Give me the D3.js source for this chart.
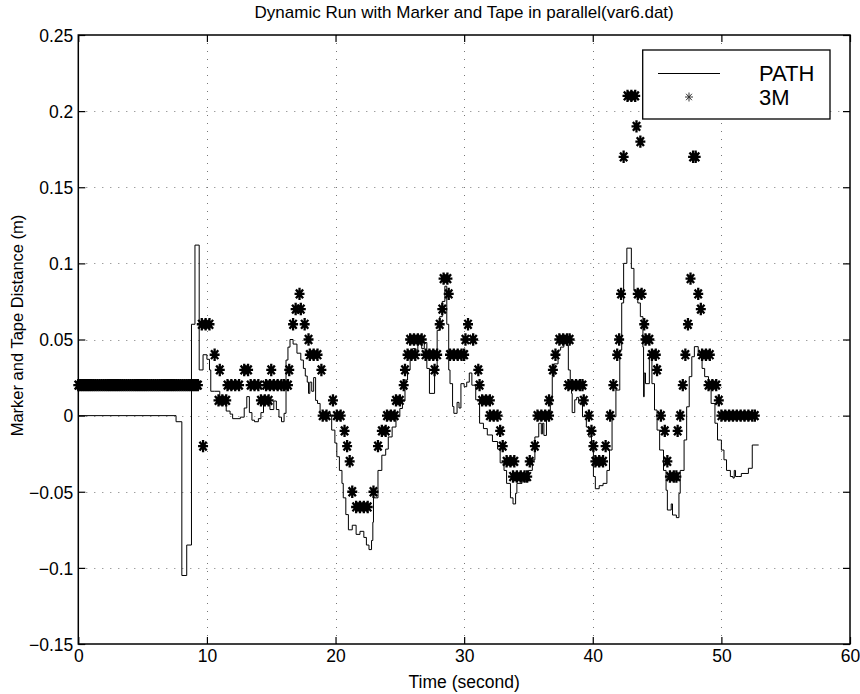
<!DOCTYPE html>
<html><head><meta charset="utf-8">
<script src="https://cdn.jsdelivr.net/npm/d3@7"></script>
<style>body{margin:0;background:#fff}svg{display:block}text{font-family:"Liberation Sans",Arial,Helvetica,sans-serif}</style>
</head><body><svg id="c" width="860" height="694"></svg>
<script>
const titleText = "Dynamic Run with Marker and Tape in parallel(var6.dat)";
const xLabel = "Time (second)";
const yLabel = "Marker and Tape Distance (m)";
const xTicks = [0, 10, 20, 30, 40, 50, 60];
const yTicks = [-0.15, -0.1, -0.05, 0, 0.05, 0.1, 0.15, 0.2, 0.25];
const yTickLabels = ["\u22120.15", "\u22120.1", "\u22120.05", "0", "0.05", "0.1", "0.15", "0.2", "0.25"];
const legendNames = ["PATH", "3M"];

// PATH series: [time, distance]
const pathPoints = [
[0,0],[7.6,-0.004],[8.05,-0.105],[8.43,-0.085],[8.8,0.06],[9.07,0.112],[9.4,0.03],[9.7,0.04],[10.0,0.037],[10.2,0.03],[10.3,0.016],[10.6,0.016],[11.0,0.007],[11.3,0.011],[11.5,0.003],[11.8,0.001],[12.0,-0.002],[12.6,-0.001],[12.9,0.005],[13.1,0.0125],[13.3,0.002],[13.5,-0.003],[13.7,-0.004],[14.0,-0.002],[14.2,0.002],[14.4,0.008],[14.75,0.011],[14.9,0.004],[15.2,0.0096],[15.4,0.004],[15.6,-0.001],[15.8,-0.004],[16.0,0.0015],[16.15,0.0365],[16.3,0.045],[16.46,0.05],[16.7,0.047],[17.0,0.041],[17.3,0.0365],[17.5,0.031],[17.65,0.026],[17.8,0.022],[17.9,0.0146],[18.0,0.022],[18.15,0.016],[18.3,0.025],[18.45,0.01],[18.6,0.008],[18.8,0.0015],[19.6,0.0004],[19.7,-0.0095],[19.95,-0.018],[20.1,-0.027],[20.3,-0.036],[20.5,-0.0445],[20.6,-0.054],[20.8,-0.065],[21.0,-0.075],[21.3,-0.072],[21.6,-0.078],[21.9,-0.076],[22.2,-0.08],[22.4,-0.085],[22.6,-0.088],[22.8,-0.082],[22.9,-0.07],[22.95,-0.054],[23.3,-0.036],[23.6,-0.026],[23.9,-0.022],[24.1,-0.014],[24.4,-0.0075],[24.7,-0.0007],[25.0,0.0047],[25.2,0.0096],[25.4,0.0234],[25.6,0.03],[25.8,0.039],[26.0,0.044],[26.2,0.043],[26.4,0.047],[26.7,0.044],[26.9,0.048],[27.1,0.031],[27.3,0.0146],[27.7,0.03],[27.9,0.056],[28.1,0.065],[28.3,0.075],[28.5,0.085],[28.65,0.06],[28.8,0.03],[28.9,0.021],[29.1,0.006],[29.2,0.0015],[29.45,0.0087],[29.6,0.005],[29.75,0.021],[30.0,0.019],[30.2,0.022],[30.4,0.028],[30.6,0.02],[30.9,0.0104],[31.2,-0.005],[31.5,-0.0085],[31.8,-0.0127],[32.2,-0.017],[32.6,-0.022],[32.8,-0.031],[33.1,-0.036],[33.3,-0.0445],[33.6,-0.054],[33.8,-0.058],[34.0,-0.051],[34.1,-0.0445],[34.5,-0.043],[35.0,-0.036],[35.3,-0.029],[35.5,-0.014],[35.8,-0.005],[36.0,-0.012],[36.1,-0.005],[36.2,-0.013],[36.4,-0.0007],[36.7,0.0104],[36.85,0.0256],[37.0,0.034],[37.3,0.043],[37.5,0.045],[37.75,0.0485],[38.0,0.046],[38.1,0.03],[38.25,0.019],[38.35,0.0146],[38.4,0.002],[38.6,0.0104],[38.75,0.012],[38.9,0.0082],[39.2,-0.0007],[39.5,-0.0075],[39.7,-0.014],[39.9,-0.0226],[40.05,-0.04],[40.2,-0.048],[40.5,-0.046],[40.8,-0.0445],[41.1,-0.036],[41.3,-0.0226],[41.5,-0.0007],[41.8,0.0168],[42.1,0.043],[42.25,0.074],[42.4,0.1],[42.65,0.11],[43.0,0.0967],[43.2,0.0825],[43.5,0.074],[43.7,0.065],[43.9,0.045],[43.95,0.0124],[44.0,0.028],[44.1,0.021],[44.4,0.0387],[44.6,0.021],[44.8,0.0037],[45.0,-0.0095],[45.2,-0.0226],[45.5,-0.036],[45.7,-0.049],[45.8,-0.062],[46.1,-0.058],[46.2,-0.0653],[46.5,-0.067],[46.7,-0.051],[46.8,-0.036],[47.1,-0.016],[47.3,0.0058],[47.5,0.0256],[47.7,0.0387],[47.9,0.0453],[48.2,0.04],[48.5,0.031],[48.7,0.0256],[49.0,0.0191],[49.2,0.008],[49.5,-0.005],[49.7,-0.016],[50.0,-0.0226],[50.2,-0.029],[50.4,-0.036],[50.7,-0.04],[50.9,-0.041],[51.0,-0.036],[51.1,-0.04],[51.3,-0.04],[51.55,-0.038],[52.1,-0.0346],[52.4,-0.0193],[52.9,-0.0193]
];

// 3M series: [time, distance]
const markerPoints = [
[0,0.02],[0.15,0.02],[0.3,0.02],[0.45,0.02],[0.6,0.02],[0.75,0.02],[0.9,0.02],[1.05,0.02],[1.2,0.02],[1.35,0.02],[1.5,0.02],[1.65,0.02],[1.8,0.02],[1.95,0.02],[2.1,0.02],[2.25,0.02],[2.4,0.02],[2.55,0.02],[2.7,0.02],[2.85,0.02],[3.0,0.02],[3.15,0.02],[3.3,0.02],[3.45,0.02],[3.6,0.02],[3.75,0.02],[3.9,0.02],[4.05,0.02],[4.2,0.02],[4.35,0.02],[4.5,0.02],[4.65,0.02],[4.8,0.02],[4.95,0.02],[5.1,0.02],[5.25,0.02],[5.4,0.02],[5.55,0.02],[5.7,0.02],[5.85,0.02],[6.0,0.02],[6.15,0.02],[6.3,0.02],[6.45,0.02],[6.6,0.02],[6.75,0.02],[6.9,0.02],[7.05,0.02],[7.2,0.02],[7.35,0.02],[7.5,0.02],[7.65,0.02],[7.8,0.02],[7.95,0.02],[8.1,0.02],[8.25,0.02],[8.4,0.02],[8.55,0.02],[8.7,0.02],[8.85,0.02],[9.0,0.02],[9.15,0.02],[9.3,0.02],
[9.6,0.06],[9.7,-0.02],[9.9,0.06],[10.2,0.06],[10.6,0.04],[10.9,0.01],[11.0,0.03],[11.2,0.01],[11.5,0.01],[11.6,0.02],[11.9,0.02],[12.2,0.02],[12.5,0.02],[12.9,0.03],[13.2,0.03],[13.4,0.02],[13.7,0.02],[14.0,0.02],[14.2,0.01],[14.5,0.01],[14.8,0.01],[14.6,0.02],[14.9,0.02],[15.0,0.03],[15.2,0.02],[15.5,0.02],[15.8,0.02],[16.0,0.02],[16.3,0.02],[16.4,0.03],[16.7,0.06],[16.9,0.07],[17.2,0.08],[17.3,0.07],[17.6,0.06],[17.9,0.05],[18.0,0.04],[18.3,0.04],[18.6,0.04],[18.9,0.03],[19.0,0.0],[19.3,0.0],[19.8,0.01],[20.1,0.0],[20.4,0.0],[20.7,-0.01],[20.9,-0.02],[21.1,-0.03],[21.3,-0.05],[21.6,-0.06],[21.9,-0.06],[22.2,-0.06],[22.5,-0.06],[22.95,-0.05],[23.3,-0.02],[23.6,-0.01],[23.9,-0.01],[24.0,0.0],[24.3,0.0],[24.6,0.0],[24.7,0.01],[25.0,0.01],[25.3,0.02],[25.4,0.03],[25.6,0.04],[25.9,0.04],[26.2,0.04],[25.8,0.05],[26.1,0.05],[26.4,0.05],[26.7,0.05],[27.0,0.04],[27.3,0.04],[27.6,0.04],[27.9,0.04],[27.7,0.03],[28.1,0.06],[28.3,0.07],[28.4,0.09],[28.7,0.09],[28.8,0.08],[28.9,0.04],[29.2,0.04],[29.5,0.04],[29.8,0.04],[30.0,0.04],[30.3,0.06],[30.1,0.05],[30.7,0.05],[31.1,0.03],[31.2,0.02],[31.4,0.01],[31.7,0.01],[32.0,0.01],[32.0,0.0],[32.3,0.0],[32.6,0.0],[32.8,-0.01],[33.0,-0.02],[33.3,-0.03],[33.6,-0.03],[33.9,-0.03],[33.8,-0.04],[34.1,-0.04],[34.4,-0.04],[34.7,-0.04],[34.9,-0.04],[35.1,-0.03],[35.5,-0.02],[35.7,0.0],[36.0,0.0],[36.3,0.0],[36.6,0.0],[36.6,0.01],[36.9,0.03],[37.1,0.04],[37.4,0.05],[37.7,0.05],[38.0,0.05],[38.2,0.05],[38.1,0.02],[38.4,0.02],[38.7,0.02],[39.0,0.02],[39.2,0.02],[39.3,0.01],[39.7,0.0],[39.9,-0.01],[40.05,-0.02],[40.2,-0.03],[40.5,-0.03],[40.8,-0.03],[41.0,-0.02],[41.35,0.0],[41.6,0.02],[41.9,0.04],[42.05,0.05],[42.2,0.08],[42.4,0.17],[42.7,0.21],[43.0,0.21],[43.3,0.21],[43.4,0.19],[43.7,0.18],[43.5,0.08],[43.8,0.08],[44.0,0.06],[44.1,0.05],[44.4,0.05],[44.6,0.04],[44.9,0.04],[45.0,0.03],[45.3,0.0],[45.6,-0.01],[45.8,-0.03],[46.0,-0.04],[46.3,-0.04],[46.5,-0.04],[46.6,-0.01],[46.8,0.0],[47.0,0.02],[47.2,0.04],[47.4,0.06],[47.6,0.09],[47.8,0.17],[48.0,0.17],[48.2,0.08],[48.4,0.07],[48.5,0.04],[48.8,0.04],[49.1,0.04],[49.0,0.02],[49.3,0.02],[49.6,0.02],[49.8,0.01],[50.0,0.0],[50.3,0.0],[50.6,0.0],[50.9,0.0],[51.2,0.0],[51.5,0.0],[51.8,0.0],[52.1,0.0],[52.4,0.0],[52.6,0.0]
];

const svg = d3.select("#c");
const pLeft = 78.3, pRight = 850, pTop = 35, pBottom = 644;
const x = d3.scaleLinear().domain([0, 60]).range([pLeft, pRight]);
const y = d3.scaleLinear().domain([-0.15, 0.25]).range([pBottom, pTop]);

// grid
const grid = svg.append("g").attr("stroke", "#777").attr("stroke-width", 1).attr("stroke-dasharray", "1,7");
xTicks.slice(1, -1).forEach(t => grid.append("line").attr("x1", Math.round(x(t)) + 0.5).attr("x2", Math.round(x(t)) + 0.5).attr("y1", pTop).attr("y2", pBottom));
yTicks.slice(1, -1).forEach(t => grid.append("line").attr("y1", Math.round(y(t)) + 0.5).attr("y2", Math.round(y(t)) + 0.5).attr("x1", pLeft).attr("x2", pRight));

// axes
const fs = 17.5;
const ax = svg.append("g").attr("transform", `translate(0,${pBottom})`).call(d3.axisBottom(x).tickValues(xTicks).tickSize(-7).tickPadding(6).tickFormat(d3.format("d")));
const axTop = svg.append("g").attr("transform", `translate(0,${pTop})`).call(d3.axisTop(x).tickValues(xTicks).tickSize(-7).tickFormat(""));
const ay = svg.append("g").attr("transform", `translate(${pLeft},0)`).call(d3.axisLeft(y).tickValues(yTicks).tickSize(-7).tickPadding(5).tickFormat((d, i) => yTickLabels[i]));
const ayR = svg.append("g").attr("transform", `translate(${pRight},0)`).call(d3.axisRight(y).tickValues(yTicks).tickSize(-7).tickFormat(""));
[ax, axTop, ay, ayR].forEach(g => {
  g.select(".domain").remove();
  g.selectAll("line").attr("stroke", "#000").attr("stroke-width", 1.2);
  g.selectAll("text").attr("font-size", fs).attr("fill", "#000").attr("font-family", "Liberation Sans, Arial, sans-serif");
});
ay.selectAll("text").attr("dy", "0.36em");

// data
const line = d3.line().x(d => x(d[0])).y(d => y(d[1])).curve(d3.curveStepAfter);
svg.append("path").datum(pathPoints).attr("d", line).attr("fill", "none").attr("stroke", "#000").attr("stroke-width", 1);

const star = "M-5,0H5M0,-6.2V6.2M-3.6,-4.4L3.6,4.4M-3.6,4.4L3.6,-4.4";
svg.append("g").selectAll("path").data(markerPoints).join("path")
  .attr("transform", d => `translate(${x(d[0])},${y(d[1])})`)
  .attr("d", star).attr("stroke", "#000").attr("stroke-width", 2.3).attr("fill", "none");

// frame
svg.append("rect").attr("x", pLeft).attr("y", pTop).attr("width", pRight - pLeft).attr("height", pBottom - pTop)
  .attr("fill", "none").attr("stroke", "#000").attr("stroke-width", 1.5);

// legend
const lg = svg.append("g");
lg.append("rect").attr("x", 642.7).attr("y", 50).attr("width", 187.3).attr("height", 69).attr("fill", "#fff").attr("stroke", "#000").attr("stroke-width", 1.3);
lg.append("line").attr("x1", 658).attr("x2", 720).attr("y1", 73.5).attr("y2", 73.5).attr("stroke", "#000").attr("stroke-width", 1);
lg.append("path").attr("transform", "translate(689,97)").attr("d", "M-4,0H4M0,-4.5V4.5M-2.9,-3.2L2.9,3.2M-2.9,3.2L2.9,-3.2").attr("stroke", "#333").attr("stroke-width", 1).attr("fill", "none");
lg.append("text").attr("x", 759).attr("y", 81).attr("font-size", 22).text(legendNames[0]);
lg.append("text").attr("x", 759).attr("y", 105).attr("font-size", 22).text(legendNames[1]);

// titles
svg.append("text").attr("x", (pLeft + pRight) / 2).attr("y", 18).attr("text-anchor", "middle").attr("font-size", 17).text(titleText);
svg.append("text").attr("x", (pLeft + pRight) / 2).attr("y", 688).attr("text-anchor", "middle").attr("font-size", 17.5).text(xLabel);
svg.append("text").attr("transform", `translate(23,${(pTop + pBottom) / 2 - 14}) rotate(-90)`).attr("text-anchor", "middle").attr("font-size", 16.5).text(yLabel);
</script></body></html>
